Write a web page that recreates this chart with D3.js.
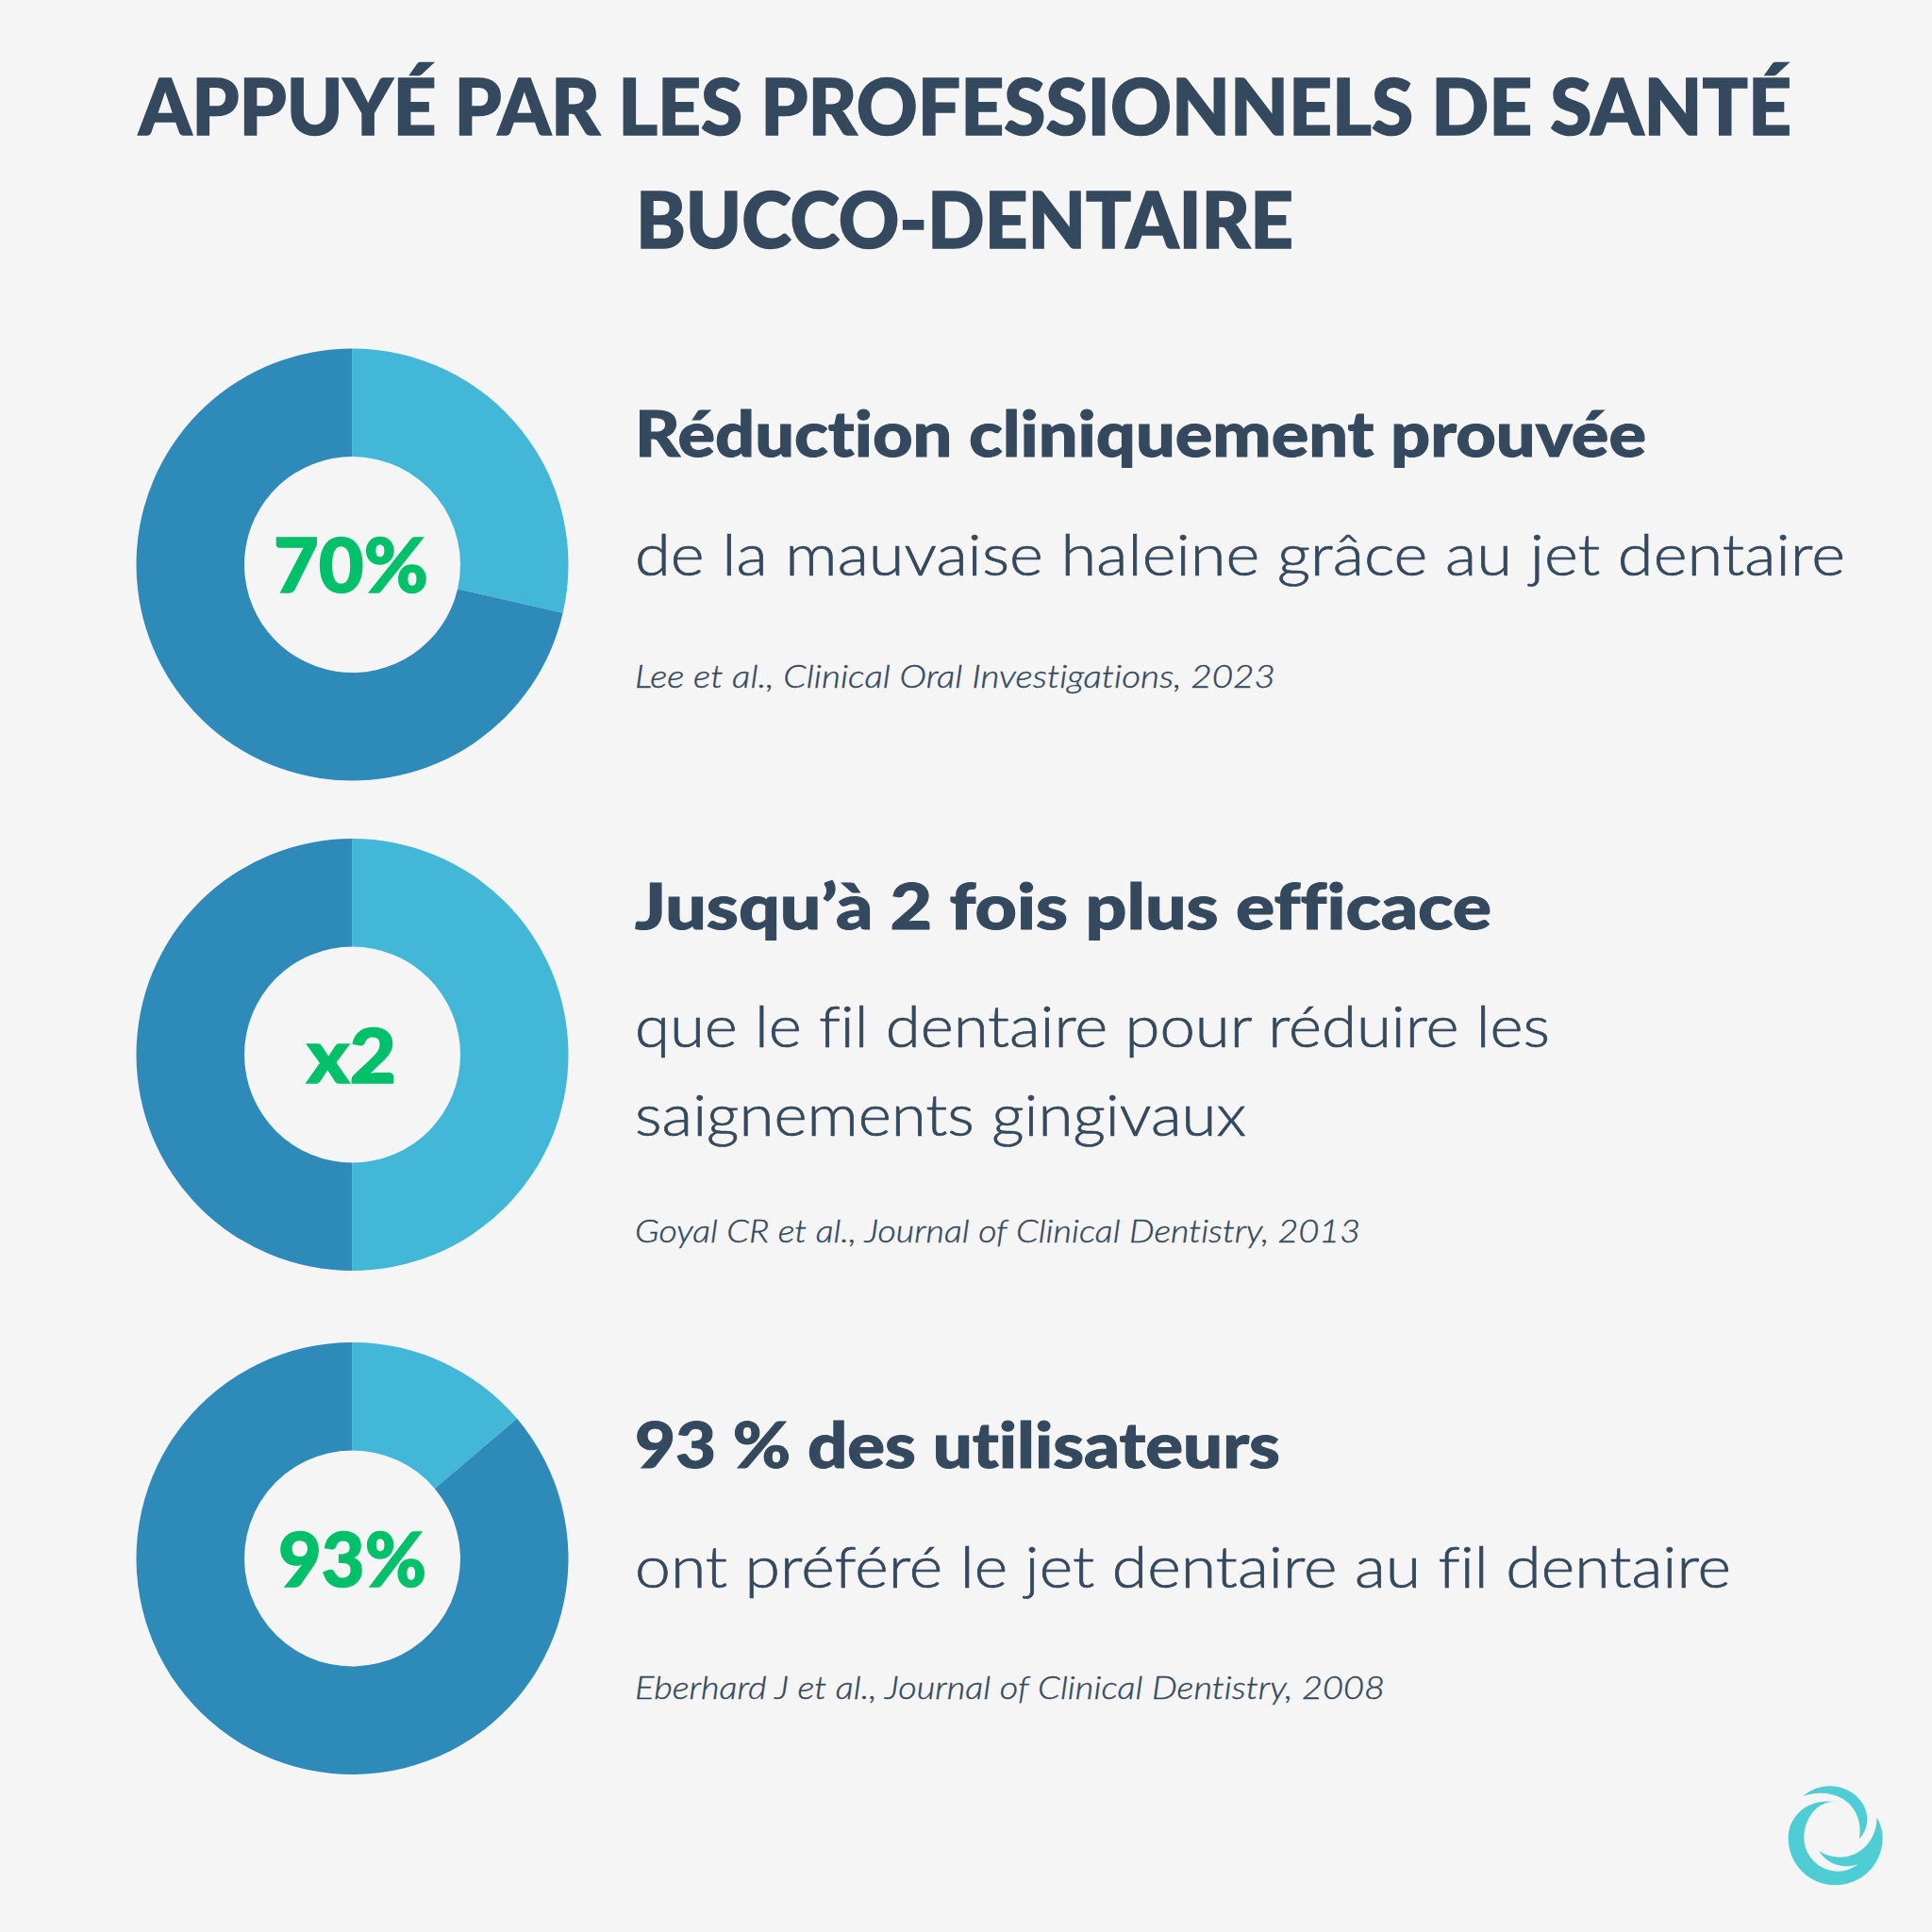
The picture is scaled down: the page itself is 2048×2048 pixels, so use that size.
<!DOCTYPE html>
<html>
<head>
<meta charset="utf-8">
<script src="https://cdn.jsdelivr.net/npm/d3@7"></script>
<style>
  html, body { margin: 0; padding: 0; background: #f5f5f5; }
  svg { display: block; }
  text { font-family: Lato, "Open Sans", sans-serif; font-variant-ligatures: none; }
</style>
</head>
<body>
<script>
// values
var categories = ["accent", "reste"];
var shares70 = [28.6, 71.4];
var sharesX2 = [50, 50];
var shares93 = [13.8, 86.2];
var centerLabels = ["70%", "x2", "93%"];

var titleLines = ["APPUYÉ PAR LES PROFESSIONNELS DE SANTÉ", "BUCCO-DENTAIRE"];
var headings = ["Réduction cliniquement prouvée", "Jusqu’à 2 fois plus efficace", "93 % des utilisateurs"];
var bodies = [
  ["de la mauvaise haleine grâce au jet dentaire"],
  ["que le fil dentaire pour réduire les", "saignements gingivaux"],
  ["ont préféré le jet dentaire au fil dentaire"]
];
var citations = [
  "Lee et al., Clinical Oral Investigations, 2023",
  "Goyal CR et al., Journal of Clinical Dentistry, 2013",
  "Eberhard J et al., Journal of Clinical Dentistry, 2008"
];

// layout, kept apart from the data
var screen = {width: 2048, height: 2048};
var textX = 673;
var donutX = 373.5;
var donutY = [598.5, 1118, 1652];
var outer = 229, inner = 114.5;
var titleLayout = [{y: 143, x0: 147, x1: 1899}, {y: 263, x0: 674, x1: 1371}];
var headingLayout = [{y: 484, x1: 1745}, {y: 985, x1: 1581}, {y: 1556, x1: 1357}];
var bodyLayout = [
  [{y: 610, x1: 1956}],
  [{y: 1110, x1: 1643}, {y: 1204, x1: 1321}],
  [{y: 1683, x1: 1835}]
];
var citeLayout = [{y: 729, x1: 1352}, {y: 1317, x1: 1442}, {y: 1801, x1: 1468}];
var labelLayout = [{y: 628, x0: 290, x1: 454}, {y: 1148, x0: 325, x1: 420}, {y: 1682, x0: 295, x1: 452}];

var ink = "#34495e";
var colorScale = d3.scaleOrdinal().domain(categories).range(["#42b7d7", "#2e8ab8"]);

var svg = d3.select("body")
            .append("svg")
            .attr("width", screen.width)
            .attr("height", screen.height);

svg.append("rect")
   .attr("width", screen.width)
   .attr("height", screen.height)
   .attr("fill", "#f5f5f5");

// text squeezed to the width it has in the picture, the stroke makes up for Lato's lighter stems
var fitText = function(str, x0, x1, y, size, weight, color, thicken, style)
{
  return svg.append("text")
            .attr("x", x0)
            .attr("y", y)
            .attr("font-size", size)
            .attr("font-weight", weight)
            .attr("font-style", style || "normal")
            .attr("fill", color)
            .attr("stroke", color)
            .attr("stroke-width", thicken)
            .attr("textLength", x1 - x0)
            .attr("lengthAdjust", "spacingAndGlyphs")
            .text(str);
}

titleLines.forEach(function(line, i)
{
  fitText(line, titleLayout[i].x0, titleLayout[i].x1, titleLayout[i].y, 82, 900, ink, 1.5);
});

var pie = d3.pie().sort(null).value(function(d){return d.value});
var arc = d3.arc().innerRadius(inner).outerRadius(outer);

[shares70, sharesX2, shares93].forEach(function(shares, i)
{
  var slices = pie(shares.map(function(v, j){return {name: categories[j], value: v}}));

  svg.append("g")
     .attr("transform", "translate(" + donutX + "," + donutY[i] + ")")
     .selectAll("path")
     .data(slices)
     .enter()
     .append("path")
     .attr("d", arc)
     .attr("fill", function(d){return colorScale(d.data.name)});

  fitText(centerLabels[i], labelLayout[i].x0, labelLayout[i].x1, labelLayout[i].y, 80, 900, "#00c16a", 1.5);
  fitText(headings[i], textX, headingLayout[i].x1, headingLayout[i].y, 66, 900, ink, 1);

  bodies[i].forEach(function(line, j)
  {
    fitText(line, textX, bodyLayout[i][j].x1, bodyLayout[i][j].y, 62, 300, ink, 0.7);
  });

  fitText(citations[i], textX, citeLayout[i].x1, citeLayout[i].y, 33, 300, ink, 0.4, "italic");
});

// logo, two crescents
var logo = svg.append("g")
              .attr("transform", "translate(1850,1850) scale(0.3333)")
              .attr("fill", "#4ecdd5");

logo.append("path")
    .attr("d", "M292,181 C200,165 137,225 137,295 C137,380 205,445 285,445 C375,445 437,375 437,295 C437,270 430,248 418,230 C420,300 365,357 300,356 C275,356 252,348 235,337 C265,385 320,393 358,378 C340,393 320,401 295,401 C235,401 187,352 187,295 C187,230 235,172 292,181 Z");

logo.append("path")
    .attr("d", "M183,163 C210,140 240,130 270,130 C335,130 388,180 388,235 C388,260 378,282 363,298 C372,240 350,195 310,170 C270,148 220,148 183,163 Z");
</script>
</body>
</html>
